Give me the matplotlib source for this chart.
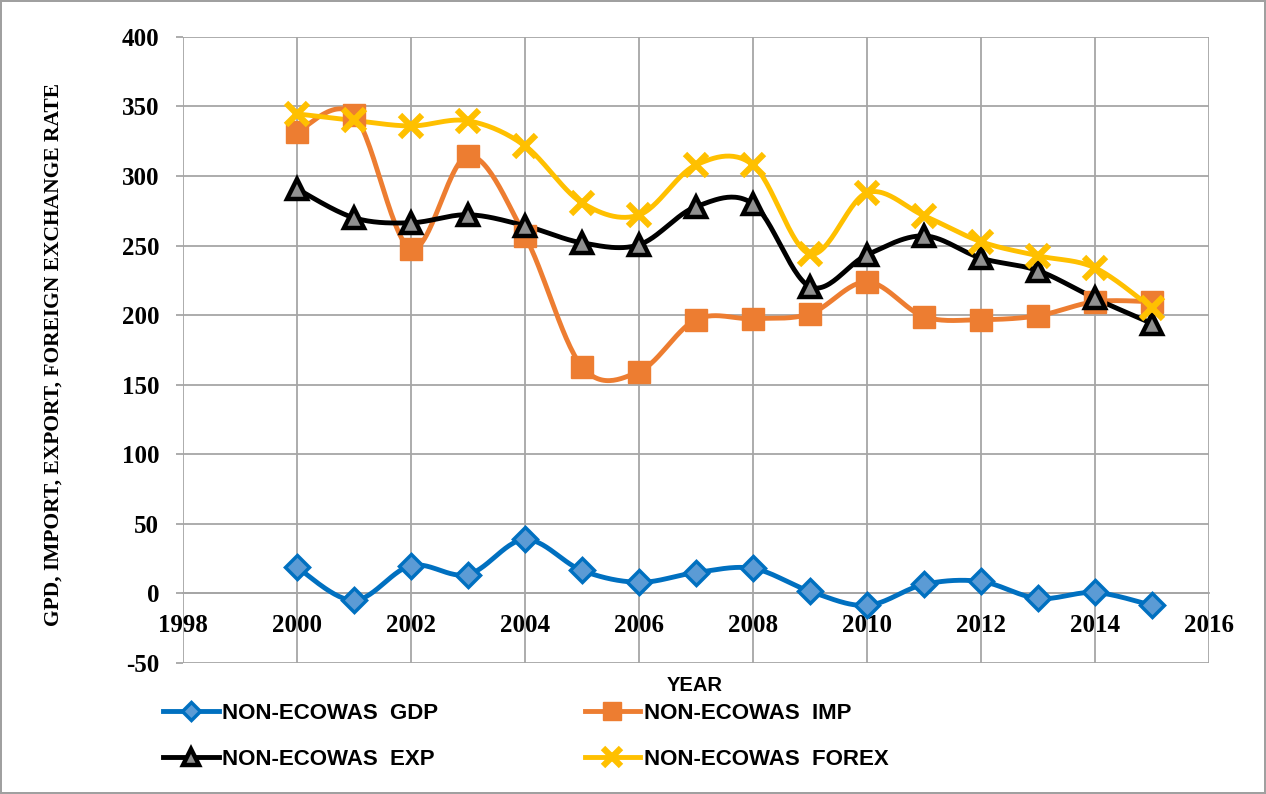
import numpy as np
import matplotlib
matplotlib.use("Agg")
import matplotlib.pyplot as plt
from matplotlib.lines import Line2D

plt.rcParams["axes.unicode_minus"] = False

years = list(range(2000, 2016))
gdp = [18.7, -5, 20, 13.6, 38.8, 16.5, 8, 15, 18, 1.5, -8.6, 6.5, 8.6, -3.6, 0.7, -8.6]
imp = [331.8, 344, 247.7, 314.5, 257, 163, 159.4, 196.8, 197.5, 201, 224, 199, 196.8, 199.6, 209.7, 209.7]
exp_ = [290.8, 270, 266.4, 272.2, 264.3, 252, 250.6, 278, 280, 220.5, 243.4, 257, 241, 232, 212, 194]
forex = [344.7, 340, 336, 339.7, 321.7, 280.8, 272, 308, 308, 244, 288, 271.5, 252.8, 242.7, 234, 205]

labels = ["NON-ECOWAS  GDP", "NON-ECOWAS  IMP", "NON-ECOWAS  EXP", "NON-ECOWAS  FOREX"]
xticks = list(range(1998, 2017, 2))
yticks = list(range(-50, 401, 50))


def smooth(x, y, n=30):
    # excel-like smoothed line: cubic bezier through each point
    x = np.asarray(x, float)
    y = np.asarray(y, float)
    xs, ys = [x[0]], [y[0]]
    for i in range(len(x) - 1):
        i0 = max(i - 1, 0)
        i3 = min(i + 2, len(x) - 1)
        p0 = np.array([x[i], y[i]])
        p3 = np.array([x[i + 1], y[i + 1]])
        c1 = p0 + np.array([x[i + 1] - x[i0], y[i + 1] - y[i0]]) / 6
        c2 = p3 - np.array([x[i3] - x[i], y[i3] - y[i]]) / 6
        t = np.linspace(0, 1, n)[1:, None]
        pts = ((1 - t) ** 3) * p0 + 3 * ((1 - t) ** 2) * t * c1 + 3 * (1 - t) * t ** 2 * c2 + t ** 3 * p3
        xs.extend(pts[:, 0])
        ys.extend(pts[:, 1])
    return xs, ys


fig = plt.figure(figsize=(12.66, 7.94), dpi=100)
fig.patch.set_edgecolor("#A0A0A0")
fig.patch.set_linewidth(1.5)
ax = fig.add_axes([0.1445, 0.165, 0.8105, 0.7885])

styles = [
    (gdp, "#0070C0", "D", "#5B9BD5", "#0070C0", 12, 2.5),
    (imp, "#ED7D31", "s", "#ED7D31", "#ED7D31", 15.5, 1),
    (exp_, "#000000", "^", "#909090", "#000000", 15, 3.2),
    (forex, "#FFC000", "x", "#FFC000", "#FFC000", 16, 4.5),
]

handles = []
for (vals, col, mk, fc, ec, ms, mew), lab in zip(styles, labels):
    sx, sy = smooth(years, vals)
    ax.plot(sx, sy, color=col, lw=3.5, zorder=3, solid_capstyle="round")
    ax.plot(years, vals, ls="none", marker=mk, ms=ms, mfc=fc, mec=ec, mew=mew, zorder=4)
    handles.append(Line2D([], [], color=col, lw=3.5, marker=mk, ms=ms * 0.8, mfc=fc, mec=ec, mew=mew))

ax.set_xlim(1998, 2016)
ax.set_ylim(-50, 400)
ax.set_xticks(xticks)
ax.set_yticks(yticks)
ax.grid(True, color="#A6A6A6", lw=1.3)
ax.set_axisbelow(True)
for s in ["top", "right", "left"]:
    ax.spines[s].set_visible(False)
ax.spines["bottom"].set_position(("data", 0))
ax.spines["bottom"].set_color("#A6A6A6")
ax.spines["bottom"].set_linewidth(1.3)
ax.tick_params(axis="x", length=0, pad=15)
ax.tick_params(axis="y", length=5, width=1.3, color="#A6A6A6", pad=12)

for lbl in ax.get_xticklabels() + ax.get_yticklabels():
    lbl.set_fontfamily("Liberation Serif")
    lbl.set_fontweight("bold")
    lbl.set_fontsize(18)

fig.text(0.0427, 0.553, "GPD, IMPORT, EXPORT, FOREIGN EXCHANGE RATE", fontfamily="Liberation Serif",
         fontweight="bold", fontsize=15.5, rotation=90, ha="center", va="center")
fig.text(0.549, 0.137, "YEAR", fontfamily="Liberation Sans", fontweight="bold",
         fontsize=14.5, ha="center", va="center")

# excel fills the legend row by row
order = [0, 2, 1, 3]
fig.legend([handles[i] for i in order], [labels[i] for i in order], loc="upper left",
           bbox_to_anchor=(163 / 1266, 1 - 703 / 794), ncol=2, frameon=False,
           borderpad=0, borderaxespad=0, handlelength=2.5, handletextpad=0.15,
           columnspacing=6.6, labelspacing=1.12,
           prop={"family": "Liberation Sans", "weight": "bold", "size": 16})

fig.savefig("out.png", dpi=100, edgecolor=fig.get_edgecolor())
